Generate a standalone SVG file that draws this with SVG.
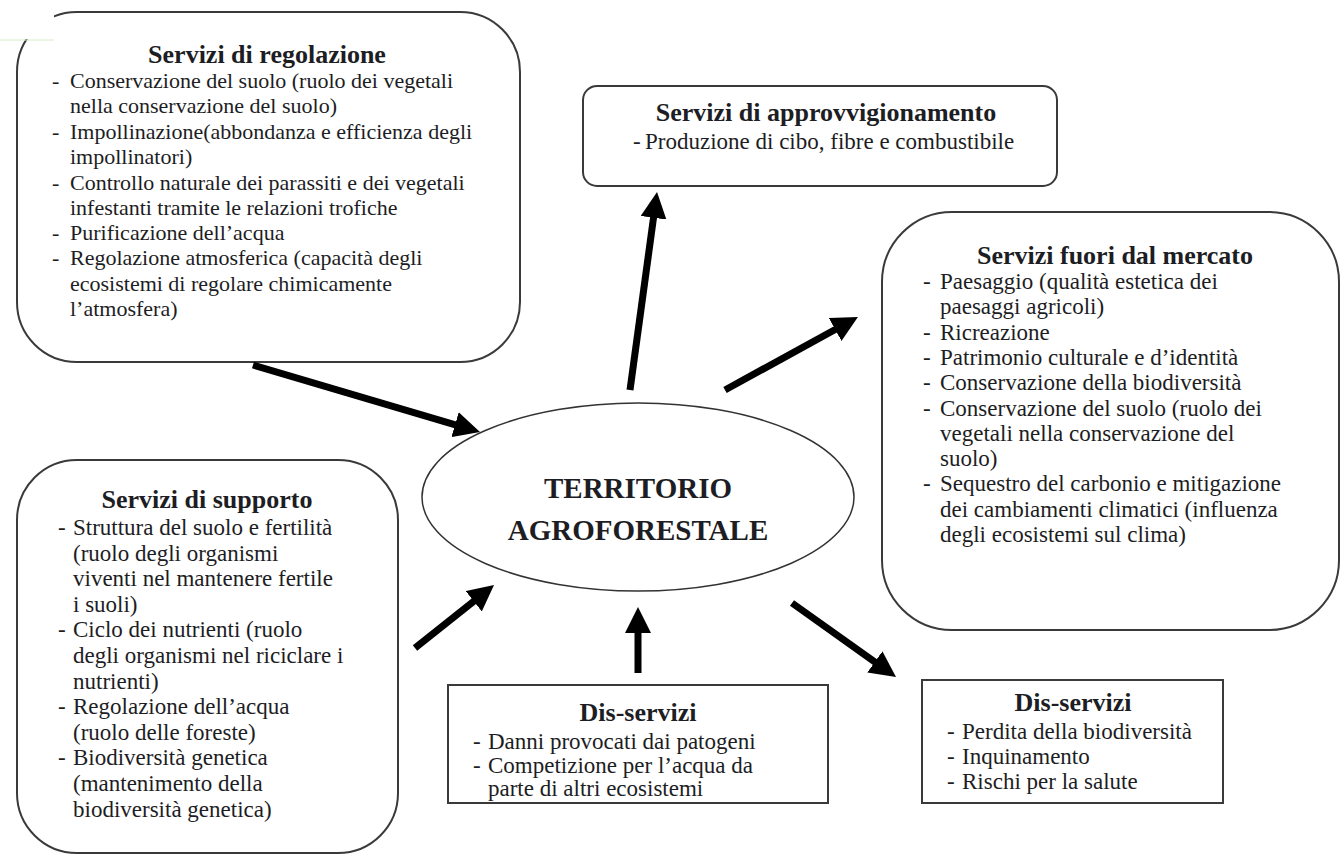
<svg xmlns="http://www.w3.org/2000/svg" width="1344" height="855" viewBox="0 0 1344 855">
<defs>
<style>
.box{fill:#fff;stroke:#3a3a3a;stroke-width:2}
.t{font-family:"Liberation Serif","Times New Roman",serif;font-weight:bold;font-size:26px;fill:#1d1d24;text-anchor:middle}
.b{font-family:"Liberation Serif","Times New Roman",serif;font-size:23px;fill:#1d1d24}
.b22{font-size:22px}
.c{font-family:"Liberation Serif","Times New Roman",serif;font-weight:bold;font-size:29px;fill:#1d1d24;text-anchor:middle}
.arr{stroke:#000;stroke-width:7;fill:none;marker-end:url(#ah)}
</style>
<marker id="ah" markerUnits="userSpaceOnUse" markerWidth="26" markerHeight="26" refX="11" refY="13" orient="auto">
<path d="M0,0 L26,13 L0,26 z" fill="#000"/>
</marker>
</defs>
<rect width="1344" height="855" fill="#fff"/>

<g id="regolazione">
<rect class="box" x="17" y="12" width="503" height="350" rx="60"/>
<text class="t" x="267" y="63">Servizi di regolazione</text>
<g class="b b22">
<text x="52" y="88">-</text><text x="70" y="88">Conservazione del suolo (ruolo dei vegetali</text>
<text x="70" y="113">nella conservazione del suolo)</text>
<text x="52" y="139">-</text><text x="70" y="139">Impollinazione(abbondanza e efficienza degli</text>
<text x="70" y="164">impollinatori)</text>
<text x="52" y="190">-</text><text x="70" y="190">Controllo naturale dei parassiti e dei vegetali</text>
<text x="70" y="215">infestanti tramite le relazioni trofiche</text>
<text x="52" y="240">-</text><text x="70" y="240">Purificazione dell’acqua</text>
<text x="52" y="265">-</text><text x="70" y="265">Regolazione atmosferica (capacità degli</text>
<text x="70" y="291">ecosistemi di regolare chimicamente</text>
<text x="70" y="316">l’atmosfera)</text>
</g>
</g>
<rect x="0" y="0" width="54" height="39" fill="#fff"/>
<line x1="0" y1="40" x2="54" y2="40" stroke="#d6ecc8" stroke-width="1"/>

<g id="approvvigionamento">
<rect class="box" x="583" y="86" width="474" height="100" rx="14"/>
<text class="t" x="826" y="121">Servizi di approvvigionamento</text>
<g class="b">
<text x="633" y="149">-</text><text x="645" y="149">Produzione di cibo, fibre e combustibile</text>
</g>
</g>

<g id="fuori-mercato">
<rect class="box" x="882" y="212" width="457" height="418" rx="70"/>
<text class="t" x="1115" y="264">Servizi fuori dal mercato</text>
<g class="b">
<text x="923" y="289">-</text><text x="940" y="289">Paesaggio (qualità estetica dei</text>
<text x="940" y="314">paesaggi agricoli)</text>
<text x="923" y="340">-</text><text x="940" y="340">Ricreazione</text>
<text x="923" y="365">-</text><text x="940" y="365">Patrimonio culturale e d’identità</text>
<text x="923" y="390">-</text><text x="940" y="390">Conservazione della biodiversità</text>
<text x="923" y="416">-</text><text x="940" y="416">Conservazione del suolo (ruolo dei</text>
<text x="940" y="441">vegetali nella conservazione del</text>
<text x="940" y="466">suolo)</text>
<text x="923" y="491">-</text><text x="940" y="491">Sequestro del carbonio e mitigazione</text>
<text x="940" y="517">dei cambiamenti climatici (influenza</text>
<text x="940" y="542">degli ecosistemi sul clima)</text>
</g>
</g>

<g id="supporto">
<rect class="box" x="17" y="460" width="381" height="393" rx="60"/>
<text class="t" x="207" y="508">Servizi di supporto</text>
<g class="b">
<text x="58" y="535">-</text><text x="73" y="535">Struttura del suolo e fertilità</text>
<text x="73" y="561">(ruolo degli organismi</text>
<text x="73" y="586">viventi nel mantenere fertile</text>
<text x="73" y="612">i suoli)</text>
<text x="58" y="637">-</text><text x="73" y="637">Ciclo dei nutrienti (ruolo</text>
<text x="73" y="663">degli organismi nel riciclare i</text>
<text x="73" y="689">nutrienti)</text>
<text x="58" y="714">-</text><text x="73" y="714">Regolazione dell’acqua</text>
<text x="73" y="740">(ruolo delle foreste)</text>
<text x="58" y="765">-</text><text x="73" y="765">Biodiversità genetica</text>
<text x="73" y="791">(mantenimento della</text>
<text x="73" y="817">biodiversità genetica)</text>
</g>
</g>

<g id="territorio">
<ellipse cx="638" cy="497" rx="216" ry="94" fill="#fff" stroke="#333" stroke-width="1.5"/>
<text class="c" x="638" y="498">TERRITORIO</text>
<text class="c" x="638" y="540">AGROFORESTALE</text>
</g>

<g id="disservizi-basso">
<rect class="box" x="448" y="685" width="380" height="118"/>
<text class="t" x="638" y="721">Dis-servizi</text>
<g class="b">
<text x="473" y="749">-</text><text x="488" y="749">Danni provocati dai patogeni</text>
<text x="473" y="773">-</text><text x="488" y="773">Competizione per l’acqua da</text>
<text x="488" y="796">parte di altri ecosistemi</text>
</g>
</g>

<g id="disservizi-destra">
<rect class="box" x="922" y="680" width="301" height="123"/>
<text class="t" x="1073" y="711">Dis-servizi</text>
<g class="b">
<text x="947" y="739">-</text><text x="962" y="739">Perdita della biodiversità</text>
<text x="947" y="764">-</text><text x="962" y="764">Inquinamento</text>
<text x="947" y="789">-</text><text x="962" y="789">Rischi per la salute</text>
</g>
</g>

<g id="connectors">
<line class="arr" x1="253" y1="365" x2="465.6" y2="427.8"/>
<line class="arr" x1="630" y1="390" x2="655" y2="206.9"/>
<line class="arr" x1="725" y1="390" x2="844.8" y2="324.2"/>
<line class="arr" x1="415" y1="648" x2="482.3" y2="594.4"/>
<line class="arr" x1="638" y1="673" x2="638" y2="622"/>
<line class="arr" x1="792" y1="603" x2="883.8" y2="668.3"/>
</g>
</svg>
